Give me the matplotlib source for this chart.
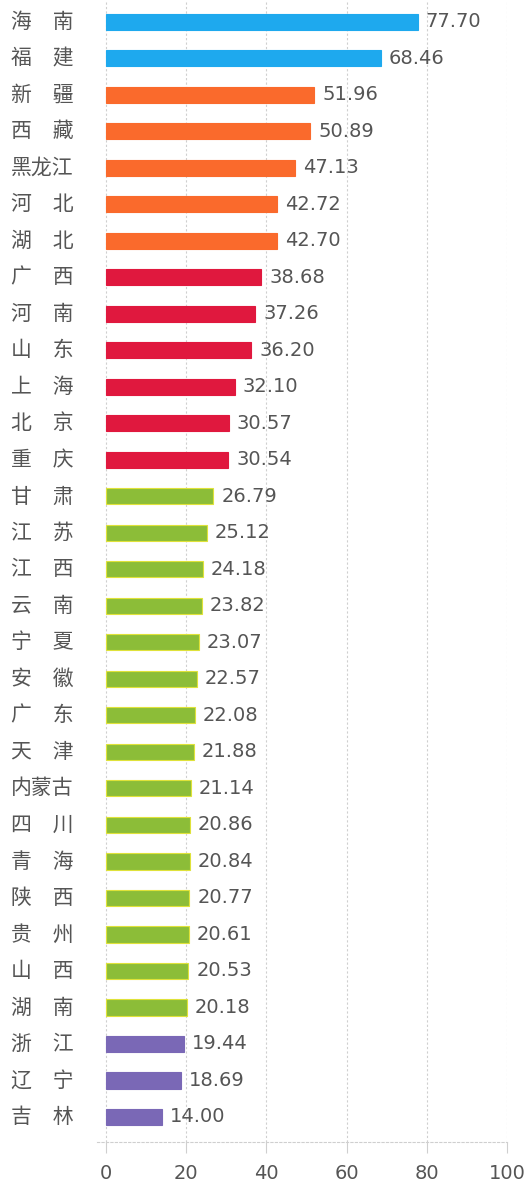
import matplotlib
matplotlib.use('Agg')
import matplotlib.pyplot as plt

plt.rcParams['font.family'] = ['Noto Sans CJK SC', 'DejaVu Sans']

provinces = ['海南', '福建', '新疆', '西藏', '黑龙江', '河北', '湖北',
             '广西', '河南', '山东', '上海', '北京', '重庆',
             '甘肃', '江苏', '江西', '云南', '宁夏', '安徽', '广东', '天津',
             '内蒙古', '四川', '青海', '陕西', '贵州', '山西', '湖南',
             '浙江', '辽宁', '吉林']
values = [77.70, 68.46, 51.96, 50.89, 47.13, 42.72, 42.70,
          38.68, 37.26, 36.20, 32.10, 30.57, 30.54,
          26.79, 25.12, 24.18, 23.82, 23.07, 22.57, 22.08, 21.88,
          21.14, 20.86, 20.84, 20.77, 20.61, 20.53, 20.18,
          19.44, 18.69, 14.00]
groups = ['a'] * 2 + ['b'] * 5 + ['c'] * 6 + ['d'] * 15 + ['e'] * 3
xticks = [0, 20, 40, 60, 80, 100]

colors = {'a': '#1ea9ee', 'b': '#fa6a2c', 'c': '#e0183e', 'd': '#8cbd38', 'e': '#7a68b6'}
edges = {'a': '#1ea9ee', 'b': '#fa6a2c', 'c': '#e0183e', 'd': '#dfe23a', 'e': '#7a68b6'}
text_col = '#555555'

fig = plt.figure(figsize=(5.29, 11.82), dpi=100)
ax = fig.add_axes([0.1834, 0.034, 0.775, 0.966])

ypos = list(range(len(provinces)))
ax.barh(ypos, values, height=0.44,
        color=[colors[g] for g in groups],
        edgecolor=[edges[g] for g in groups], linewidth=0.8, zorder=3)

for y, v in zip(ypos, values):
    ax.text(v + 2.0, y, f'{v:.2f}', va='center', ha='left',
            fontsize=14, color=text_col, family='DejaVu Sans')

for y, name in zip(ypos, provinces):
    label = name if len(name) == 3 else name[0] + '\u3000' + name[1]
    ax.text(-23.8, y, label, va='center', ha='left', fontsize=15,
            color=text_col, transform=ax.transData)

ax.set_xlim(-2.25, 100)
ax.set_ylim(len(provinces) - 0.32, -0.6)
ax.set_xticks(xticks)
ax.set_xticklabels([str(t) for t in xticks], fontsize=14, color=text_col,
                   family='DejaVu Sans')
ax.set_yticks([])
ax.grid(axis='x', color='#cfcfcf', linestyle=(0, (2, 2)), linewidth=0.8, zorder=0)
for s in ['top', 'right', 'left']:
    ax.spines[s].set_visible(False)
ax.spines['bottom'].set_color('#cfcfcf')
ax.spines['bottom'].set_linestyle((0, (2, 2)))
ax.spines['bottom'].set_linewidth(0.8)
ax.tick_params(axis='x', length=8, color='#cfcfcf', width=0.8, pad=8)
for line in ax.xaxis.get_ticklines():
    line.set_linestyle((0, (2, 2)))

fig.savefig('out.png', dpi=100, facecolor='white')
